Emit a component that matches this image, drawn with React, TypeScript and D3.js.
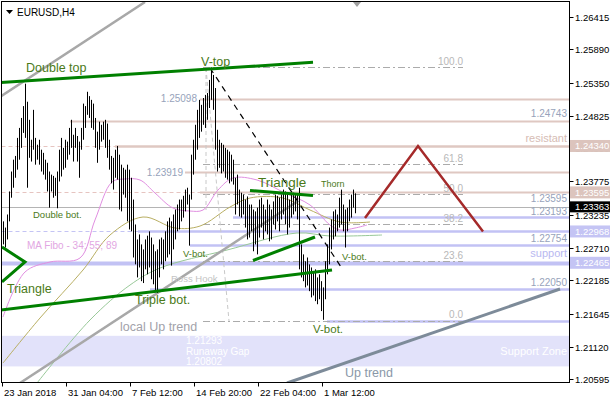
import React from "react";
import * as d3 from "d3";

const W = 610;
const H = 400;

// ---- bar data (H4 EURUSD, high / low per bar) ----
const highs = [
  1.2313, 1.2303, 1.2324, 1.2361, 1.2393, 1.2412, 1.2418, 1.2447, 1.2463, 1.2479,
  1.2498, 1.2534, 1.2505, 1.2476, 1.2444, 1.2492, 1.2447, 1.2436, 1.2444, 1.2428,
  1.2423, 1.2412, 1.2407, 1.2393, 1.2388, 1.2386, 1.2383, 1.2393, 1.2428, 1.2447,
  1.2431, 1.2444, 1.2441, 1.2463, 1.2476, 1.2452, 1.2463, 1.2450, 1.2441, 1.2463,
  1.2502, 1.2498, 1.2521, 1.2514, 1.2508, 1.2502, 1.2479, 1.2457, 1.2473, 1.2468,
  1.2473, 1.2476, 1.2470, 1.2444, 1.2418, 1.2415, 1.2428, 1.2434, 1.2420, 1.2404,
  1.2399, 1.2396, 1.2404, 1.2396, 1.2383, 1.2348, 1.2308, 1.2284, 1.2292, 1.2276,
  1.2268, 1.2284, 1.2290, 1.2297, 1.2287, 1.2276, 1.2265, 1.2268, 1.2284, 1.2287,
  1.2284, 1.2297, 1.2313, 1.2319, 1.2313, 1.2324, 1.2332, 1.2340, 1.2348, 1.2348,
  1.2354, 1.2364, 1.2367, 1.2356, 1.2420, 1.2444, 1.2468, 1.2492, 1.2508, 1.2500,
  1.2511, 1.2516, 1.2519, 1.2540, 1.2560, 1.2548, 1.2527, 1.2460, 1.2444, 1.2439,
  1.2436, 1.2431, 1.2428, 1.2425, 1.2420, 1.2412, 1.2383, 1.2388, 1.2364, 1.2359,
  1.2356, 1.2348, 1.2353, 1.2340, 1.2340, 1.2332, 1.2329, 1.2335, 1.2348, 1.2351,
  1.2340, 1.2332, 1.2348, 1.2340, 1.2332, 1.2345, 1.2356, 1.2354, 1.2351, 1.2356,
  1.2364, 1.2361, 1.2356, 1.2348, 1.2356, 1.2359, 1.2356, 1.2356, 1.2367, 1.2276,
  1.2260, 1.2249, 1.2255, 1.2244, 1.2239, 1.2233, 1.2236, 1.2223, 1.2228, 1.2217,
  1.2207, 1.2249, 1.2276, 1.2303, 1.2316, 1.2329, 1.2332, 1.2324, 1.2351, 1.2364,
  1.2340, 1.2332, 1.2335, 1.2348, 1.2356, 1.2364, 1.2358,
];
const lows = [
  1.2276, 1.2271, 1.2284, 1.2313, 1.2351, 1.2367, 1.2383, 1.2396, 1.2412, 1.2431,
  1.2455, 1.2447, 1.2367, 1.2415, 1.2409, 1.2428, 1.2404, 1.2412, 1.2404, 1.2393,
  1.2388, 1.2380, 1.2361, 1.2335, 1.2361, 1.2351, 1.2354, 1.2334, 1.2377, 1.2385,
  1.2396, 1.2399, 1.2412, 1.2420, 1.2431, 1.2409, 1.2431, 1.2409, 1.2383, 1.2428,
  1.2444, 1.2463, 1.2484, 1.2479, 1.2463, 1.2460, 1.2431, 1.2407, 1.2428, 1.2441,
  1.2444, 1.2431, 1.2415, 1.2396, 1.2374, 1.2364, 1.2383, 1.2380, 1.2332, 1.2329,
  1.2356, 1.2351, 1.2313, 1.2300, 1.2297, 1.2255, 1.2244, 1.2223, 1.2239, 1.2217,
  1.2214, 1.2236, 1.2228, 1.2239, 1.2220, 1.2212, 1.2201, 1.2198, 1.2223, 1.2244,
  1.2236, 1.2249, 1.2255, 1.2260, 1.2242, 1.2268, 1.2284, 1.2297, 1.2300, 1.2313,
  1.2319, 1.2329, 1.2340, 1.2274, 1.2348, 1.2388, 1.2412, 1.2428, 1.2447, 1.2457,
  1.2468, 1.2463, 1.2476, 1.2495, 1.2508, 1.2492, 1.2428, 1.2393, 1.2399, 1.2390,
  1.2393, 1.2383, 1.2380, 1.2374, 1.2377, 1.2372, 1.2324, 1.2340, 1.2321, 1.2319,
  1.2324, 1.2303, 1.2284, 1.2287, 1.2297, 1.2265, 1.2276, 1.2260, 1.2287, 1.2303,
  1.2284, 1.2297, 1.2292, 1.2281, 1.2284, 1.2308, 1.2300, 1.2313, 1.2297, 1.2316,
  1.2324, 1.2308, 1.2292, 1.2303, 1.2319, 1.2324, 1.2329, 1.2316, 1.2236, 1.2223,
  1.2217, 1.2207, 1.2210, 1.2201, 1.2191, 1.2194, 1.2185, 1.2180, 1.2188, 1.2169,
  1.2155, 1.2188, 1.2228, 1.2244, 1.2268, 1.2284, 1.2289, 1.2297, 1.2303, 1.2308,
  1.2297, 1.2271, 1.2297, 1.2313, 1.2319, 1.2335, 1.2326,
];

// ---- axes ----
const priceTicks = [1.26415, 1.2589, 1.2535, 1.24825, 1.243, 1.23775, 1.23235, 1.2271, 1.22185, 1.21645, 1.2112, 1.20595];
const timeTickIdx = [0, 32, 64, 96, 128, 160];
const timeTickLabels = ["23 Jan 2018", "31 Jan 04:00", "7 Feb 12:00", "14 Feb 20:00", "22 Feb 04:00", "1 Mar 12:00"];

// ---- levels ----
const bidPrice = 1.23363;
const tanLevels = [1.25098, 1.24743, 1.2434, 1.23919, 1.23595];
const tanLevelStart = [98.5, 33.5, 56, 91, 98.5];
const pinkDashedLevels = [1.2434, 1.23595];
const pinkDashedEnd = [56, 98.5];
const blueLevels = [1.23193, 1.22968, 1.22754, 1.22465, 1.2205, 1.21531];
const blueLevelStart = [115, 67.5, 93.5, -3, 73.5, 162];
const blueDashedLevels = [1.22968];
const blueDashedEnd = [67.5];
const supportZone = [1.21293, 1.20802];

const tanBoxes = [1.2434, 1.23595];
const blueBoxes = [1.22968, 1.22465];

// ---- fibonacci ----
const fibLow = 1.21531;
const fibHigh = 1.25603;
const fibRatios = [0, 0.236, 0.382, 0.5, 0.618, 1];
const fibLabels = ["0.0", "23.6", "38.2", "50.0", "61.8", "100.0"];
const fibStart = 100;
const fibEnd = 230;
const fibDiagonal: [number, number][] = [[101.5, 1.25592], [113, 1.21531]];
const fibVertical: [number, number][] = [[101.5, 1.25592], [101.5, 1.23312]];

// ---- moving averages (sampled) ----
const maPink: [number, number][] = [
  [0, 1.21595], [11, 1.22317], [23.5, 1.22478], [38.5, 1.22542], [46, 1.23152], [54.5, 1.23762],
  [61, 1.2381], [68.5, 1.23794], [76, 1.23585], [85, 1.23344], [93.5, 1.23296], [100, 1.23312],
  [107.5, 1.23633], [115, 1.23826], [127, 1.23794], [141, 1.23585], [153.5, 1.23393],
  [163.5, 1.23072], [168.5, 1.22991], [176, 1.23023], [182, 1.23072],
];
const maOlive: [number, number][] = [
  [0, 1.20856], [18.5, 1.21579], [40, 1.22349], [53.5, 1.22911], [70, 1.232], [86, 1.23023],
  [98.5, 1.23055], [113.5, 1.2336], [123.5, 1.23505], [140, 1.23505], [153.5, 1.23312],
  [168.5, 1.2312], [183.5, 1.2312],
];
const maGreen: [number, number][] = [
  [17, 1.20535], [43.5, 1.21547], [63.5, 1.22108], [78.5, 1.22381], [112, 1.2267],
  [147, 1.22943], [163.5, 1.22895], [189.5, 1.22911],
];

// ---- trend lines ----
const greenLines: [number, number][][] = [
  [[-1.5, 1.25356], [155, 1.25683]],
  [[-1.5, 1.21707], [164.5, 1.22349]],
  [[123.5, 1.23625], [155, 1.23545]],
  [[125, 1.22502], [156, 1.22879]],
  [[-0.5, 1.22718], [11, 1.22478], [-0.5, 1.22157]],
];
const grayLines: [number, number][][] = [
  [[-1.5, 1.25126], [71, 1.26651]],
  [[8.5, 1.20535], [147.5, 1.23457]],
];
const upTrend: [number, number][] = [[142, 1.20535], [278.5, 1.22044]];
const vTopDown: [number, number][] = [[103.5, 1.25592], [170, 1.22349]];
const projection: [number, number][] = [[181, 1.23184], [207.5, 1.2434], [240, 1.22968]];

// ---- annotations ----
const labelTexts = [
  "Double top", "V-top", "Triangle", "Thorn", "Double bot.", "V-bot.", "V-bot.",
  "MA Fibo - 34; 55; 89", "Ross Hook", "Triple bot.", "Triangle", "local Up trend", "V-bot.", "Up trend",
];
const labelAnchors: [number, number][] = [
  [11.5, 1.25592], [99, 1.25688], [127.5, 1.23746], [159, 1.2373], [15, 1.23248], [90, 1.22622],
  [169.5, 1.22574], [12, 1.22735], [84, 1.22205], [66, 1.21868], [2, 1.22044], [58.5, 1.21434],
  [155, 1.21402], [171, 1.20696],
];
const gapTexts = ["1.21293", "Runaway Gap", "1.20802"];
const gapAnchors: [number, number][] = [[91.5, 1.2121], [91.5, 1.21049], [91.5, 1.20873]];

const xScale = d3.scaleLinear().domain([0, 283]).range([3, 569]);
const yScale = d3.scaleLinear().domain([1.20595, 1.26415]).range([379.3, 16.7]);

const FONT = "'Liberation Sans', Arial, sans-serif";
const GREEN_TXT = "#4a7a18";
const LABEL_STYLE = [
  { c: GREEN_TXT, s: 12.5 }, { c: GREEN_TXT, s: 12.5 }, { c: GREEN_TXT, s: 13.5 }, { c: GREEN_TXT, s: 9 },
  { c: GREEN_TXT, s: 9.5 }, { c: GREEN_TXT, s: 9.5 }, { c: GREEN_TXT, s: 9.5 }, { c: "#e2a6e2", s: 10 },
  { c: "#c4c4c4", s: 9.5 }, { c: GREEN_TXT, s: 12.5 }, { c: GREEN_TXT, s: 12.5 }, { c: "#a2a2aa", s: 12.5 },
  { c: GREEN_TXT, s: 11.5 }, { c: "#8a98a8", s: 12.5 },
];

export default function App() {
  const X0 = 1.5, X1 = 569.5, Y0 = 1.5, Y1 = 382.5;
  const line = d3.line<[number, number]>().x((d) => xScale(d[0])).y((d) => yScale(d[1]));
  const smooth = d3
    .line<[number, number]>()
    .x((d) => xScale(d[0]))
    .y((d) => yScale(d[1]))
    .curve(d3.curveCatmullRom.alpha(0.5));
  const hline = (p: number, a: number, b: number) => `M${a},${Math.round(yScale(p)) + 0.5}H${b}`;
  const LX = 567; // right edge for level text

  return (
    <svg width={W} height={H} style={{ position: "absolute", left: 0, top: 0, background: "#fff" }} fontFamily={FONT}>
      <defs>
        <clipPath id="plot">
          <rect x={X0} y={Y0} width={X1 - X0} height={Y1 - Y0} />
        </clipPath>
      </defs>
      <rect x={0} y={0} width={W} height={H} fill="#fff" />
      <g clipPath="url(#plot)">
        {/* support zone */}
        <rect x={X0} y={yScale(supportZone[0])} width={X1 - X0} height={yScale(supportZone[1]) - yScale(supportZone[0])} fill="#e2e2fa" />
        {/* pink dashed */}
        {pinkDashedLevels.map((p, k) => (
          <path key={"pd" + k} d={hline(p, X0, xScale(pinkDashedEnd[k]))} stroke="#e6c4c0" strokeWidth={1} strokeDasharray="4,3" fill="none" />
        ))}
        {blueDashedLevels.map((p, k) => (
          <path key={"bd" + k} d={hline(p, X0, xScale(blueDashedEnd[k]))} stroke="#c4c4f4" strokeWidth={1} strokeDasharray="4,3" fill="none" />
        ))}
        {/* tan levels */}
        {tanLevels.map((p, k) => (
          <path key={"t" + k} d={hline(p, xScale(tanLevelStart[k]), X1)} stroke="#dfc8c2" strokeWidth={k === 2 ? 2.5 : 2} fill="none" />
        ))}
        {/* bid line */}
        <path d={hline(bidPrice, X0, X1)} stroke="#b4b4b4" strokeWidth={1} fill="none" />
        {/* blue levels */}
        {blueLevels.map((p, k) => (
          <path key={"b" + k} d={hline(p, xScale(blueLevelStart[k]), X1)} stroke="#c2c2f4" strokeWidth={k === 3 ? 4 : 2.5} fill="none" />
        ))}
        {/* fibonacci */}
        {fibRatios.map((r, k) => {
          const p = fibLow + r * (fibHigh - fibLow);
          return (
            <g key={"f" + k}>
              <path d={hline(p, xScale(fibStart), xScale(fibEnd))} stroke="#ababab" strokeWidth={1} strokeDasharray="7,3,2,3" fill="none" />
              <text x={xScale(fibEnd)} y={yScale(p) - 6} textAnchor="end" dominantBaseline="central" fontSize={10} fill="#b8b8b8">
                {fibLabels[k]}
              </text>
            </g>
          );
        })}
        <path d={line(fibDiagonal) || ""} stroke="#c8c8c8" strokeWidth={1} strokeDasharray="4,3" fill="none" />
        <path d={line(fibVertical) || ""} stroke="#c8c8c8" strokeWidth={1} strokeDasharray="4,3" fill="none" />
        {/* moving averages */}
        <path d={smooth(maGreen) || ""} stroke="#98c898" strokeWidth={1} fill="none" />
        <path d={smooth(maOlive) || ""} stroke="#b8ae62" strokeWidth={1} fill="none" />
        <path d={smooth(maPink) || ""} stroke="#e08ee0" strokeWidth={1} fill="none" />
        {/* gray trend lines */}
        {grayLines.map((l, k) => (
          <path key={"g" + k} d={line(l) || ""} stroke="#a8a8a8" strokeWidth={2.5} fill="none" />
        ))}
        <path d={line(upTrend) || ""} stroke="#7d8b99" strokeWidth={3} fill="none" />
        {/* bars */}
        {highs.map((h, i) => {
          const x = Math.round(xScale(i)) + 0.5;
          return <line key={"bar" + i} x1={x} x2={x} y1={yScale(h)} y2={yScale(lows[i])} stroke="#000" strokeWidth={1} />;
        })}
        {/* V-top dashed line */}
        <path d={line(vTopDown) || ""} stroke="#000" strokeWidth={1.2} strokeDasharray="6,5" fill="none" />
        {/* green lines */}
        {greenLines.map((l, k) => (
          <path key={"gr" + k} d={line(l) || ""} stroke="#008000" strokeWidth={3} fill="none" strokeLinejoin="miter" />
        ))}
        {/* projection */}
        <path d={line(projection) || ""} stroke="#a52a2a" strokeWidth={2.5} fill="none" />

        {/* level text */}
        <text x={xScale(tanLevelStart[0]) - 3} y={yScale(tanLevels[0])} textAnchor="end" dominantBaseline="central" fontSize={10} fill="#97a3bb">
          {tanLevels[0].toFixed(5)}
        </text>
        <text x={xScale(tanLevelStart[3]) - 2} y={yScale(tanLevels[3])} textAnchor="end" dominantBaseline="central" fontSize={10} fill="#97a3bb">
          {tanLevels[3].toFixed(5)}
        </text>
        {[tanLevels[1]].map((p) => (
          <text key="t1" x={LX} y={yScale(p) - 7} textAnchor="end" dominantBaseline="central" fontSize={10} fill="#97a3bb">{p.toFixed(5)}</text>
        ))}
        <text x={LX} y={yScale(tanLevels[4]) + 6} textAnchor="end" dominantBaseline="central" fontSize={10} fill="#97a3bb">
          {tanLevels[4].toFixed(5)}
        </text>
        {[blueLevels[0], blueLevels[2], blueLevels[4]].map((p, k) => (
          <text key={"bl" + k} x={LX} y={yScale(p) - 6} textAnchor="end" dominantBaseline="central" fontSize={10} fill="#97a3bb">{p.toFixed(5)}</text>
        ))}
        <text x={LX} y={yScale(tanLevels[2]) - 8} textAnchor="end" dominantBaseline="central" fontSize={11} fill="#d6bcb4">resistant</text>
        <text x={LX} y={yScale(blueLevels[3]) - 10} textAnchor="end" dominantBaseline="central" fontSize={11} fill="#b8b8f0">support</text>
        <text x={LX} y={(yScale(supportZone[0]) + yScale(supportZone[1])) / 2} textAnchor="end" dominantBaseline="central" fontSize={11} fill="#ffffff">Support Zone</text>
        {gapTexts.map((t, k) => (
          <text key={"gap" + k} x={xScale(gapAnchors[k][0])} y={yScale(gapAnchors[k][1])} dominantBaseline="central" fontSize={10} fill="#ffffff">{t}</text>
        ))}
        {labelTexts.map((t, k) => (
          <text key={"lab" + k} x={xScale(labelAnchors[k][0])} y={yScale(labelAnchors[k][1])} dominantBaseline="central" fontSize={LABEL_STYLE[k].s} fill={LABEL_STYLE[k].c}>
            {t}
          </text>
        ))}
        {/* shift marker */}
        <path d={`M${xScale(177) - 4},2H${xScale(177) + 4}L${xScale(177)},7Z`} fill="#a0a0a0" />
      </g>

      {/* frame */}
      <rect x={X0} y={Y0} width={X1 - X0} height={Y1 - Y0} fill="none" stroke="#000" strokeWidth={1} />

      {/* title */}
      <path d="M6,10H13L9.5,14Z" fill="#000" />
      <text x={17} y={12} dominantBaseline="central" fontSize={10} fill="#000">EURUSD,H4</text>

      {/* price axis */}
      {priceTicks.map((p, k) => {
        const y = Math.round(yScale(p)) + 0.5;
        return (
          <g key={"pt" + k}>
            <line x1={X1} x2={X1 + 4} y1={y} y2={y} stroke="#000" />
            <text x={575} y={y} dominantBaseline="central" fontSize={9.5} fill="#000">{p.toFixed(5)}</text>
          </g>
        );
      })}
      {tanBoxes.map((p, k) => (
        <g key={"tb" + k}>
          <rect x={570} y={yScale(p) - 6} width={40} height={12} fill="#dcc4bd" />
          <text x={575} y={yScale(p)} dominantBaseline="central" fontSize={9.5} fill="#fff">{p.toFixed(5)}</text>
        </g>
      ))}
      {blueBoxes.map((p, k) => (
        <g key={"bb" + k}>
          <rect x={570} y={yScale(p) - 6} width={40} height={12} fill="#c4c4f4" />
          <text x={575} y={yScale(p)} dominantBaseline="central" fontSize={9.5} fill="#fff">{p.toFixed(5)}</text>
        </g>
      ))}
      <rect x={570} y={yScale(bidPrice) - 5.5} width={40} height={11} fill="#000" />
      <text x={575} y={yScale(bidPrice)} dominantBaseline="central" fontSize={9.5} fill="#fff">{bidPrice.toFixed(5)}</text>

      {/* time axis */}
      {timeTickIdx.map((i, k) => {
        const x = Math.round(xScale(i)) - 0.5;
        return (
          <g key={"tt" + k}>
            <line x1={x} x2={x} y1={Y1} y2={Y1 + 4} stroke="#000" />
            <text x={x + 1.5} y={392} dominantBaseline="central" fontSize={9.5} fill="#000">{timeTickLabels[k]}</text>
          </g>
        );
      })}
    </svg>
  );
}
